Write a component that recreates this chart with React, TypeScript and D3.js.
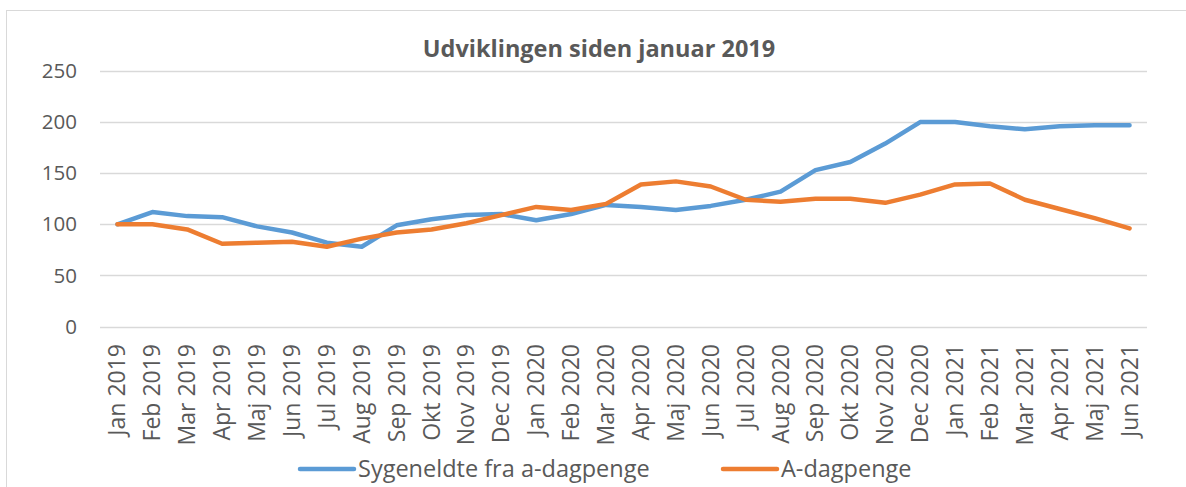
import * as d3 from "d3";

const months = [
  "Jan 2019", "Feb 2019", "Mar 2019", "Apr 2019", "Maj 2019", "Jun 2019",
  "Jul 2019", "Aug 2019", "Sep 2019", "Okt 2019", "Nov 2019", "Dec 2019",
  "Jan 2020", "Feb 2020", "Mar 2020", "Apr 2020", "Maj 2020", "Jun 2020",
  "Jul 2020", "Aug 2020", "Sep 2020", "Okt 2020", "Nov 2020", "Dec 2020",
  "Jan 2021", "Feb 2021", "Mar 2021", "Apr 2021", "Maj 2021", "Jun 2021",
];

const sygeneldte = [
  100, 112, 108, 107, 98, 92, 82, 78, 99, 105, 109, 110,
  104, 110, 119, 117, 114, 118, 124, 132, 153, 161, 179, 200,
  200, 196, 193, 196, 197, 197,
];

const aDagpenge = [
  100, 100, 95, 81, 82, 83, 78, 86, 92, 95, 101, 109,
  117, 114, 120, 139, 142, 137, 124, 122, 125, 125, 121, 129,
  139, 140, 124, 115, 106, 96,
];

const yTicks = [0, 50, 100, 150, 200, 250];

const series = [
  { name: "Sygeneldte fra a-dagpenge", values: sygeneldte, color: "#5B9BD5" },
  { name: "A-dagpenge", values: aDagpenge, color: "#ED7D31" },
];

const W = 1186;
const H = 487;
const margin = { left: 100, right: 39, top: 71, bottom: 160 };
const font = "'Open Sans', 'Noto Sans', sans-serif";
const textColor = "#595959";

export default function App() {
  const x = d3
    .scaleBand()
    .domain(months)
    .range([margin.left, W - margin.right]);
  const y = d3
    .scaleLinear()
    .domain([0, 250])
    .range([H - margin.bottom - 0.5, margin.top]);

  const line = d3
    .line<number>()
    .x((_, i) => x(months[i])! + x.bandwidth() / 2)
    .y((d) => y(d));

  const legendX = [300, 723];

  return (
    <svg
      width={W}
      height={H}
      style={{ position: "absolute", left: 0, top: 0, background: "#fff" }}
      fontFamily={font}
    >
      <rect x={6.5} y={10.5} width={W} height={H} fill="#fff" stroke="#d9d9d9" />
      <text
        x={599}
        y={57}
        textAnchor="middle"
        fontWeight="bold"
        fontSize={23.5}
        fill={textColor}
      >
        Udviklingen siden januar 2019
      </text>

      {/* grid + y labels */}
      {yTicks.map((t) => (
        <g key={t}>
          <line
            x1={margin.left}
            x2={W - margin.right}
            y1={Math.round(y(t)) + 0.5}
            y2={Math.round(y(t)) + 0.5}
            stroke="#d9d9d9"
            strokeWidth={1.5}
          />
          <text
            x={77}
            y={y(t)}
            dy="0.35em"
            textAnchor="end"
            fontSize={20.5}
            fill={textColor}
          >
            {t}
          </text>
        </g>
      ))}

      {/* x labels */}
      {months.map((m) => {
        const cx = x(m)! + x.bandwidth() / 2;
        const cy = 344;
        return (
          <text
            key={m}
            x={cx}
            y={cy}
            dy="0.35em"
            textAnchor="end"
            fontSize={23}
            fill={textColor}
            transform={`rotate(-90, ${cx}, ${cy})`}
          >
            {m}
          </text>
        );
      })}

      {series.map((s) => (
        <path
          key={s.name}
          d={line(s.values)!}
          fill="none"
          stroke={s.color}
          strokeWidth={4.5}
          strokeLinejoin="round"
          strokeLinecap="round"
        />
      ))}

      {/* legend */}
      {series.map((s, i) => (
        <g key={s.name}>
          <line
            x1={legendX[i]}
            x2={legendX[i] + 54}
            y1={469}
            y2={469}
            stroke={s.color}
            strokeWidth={4.5}
            strokeLinecap="round"
          />
          <text
            x={legendX[i] + 58}
            y={469}
            dy="0.35em"
            fontSize={23.5}
            fill={textColor}
          >
            {s.name}
          </text>
        </g>
      ))}
    </svg>
  );
}
